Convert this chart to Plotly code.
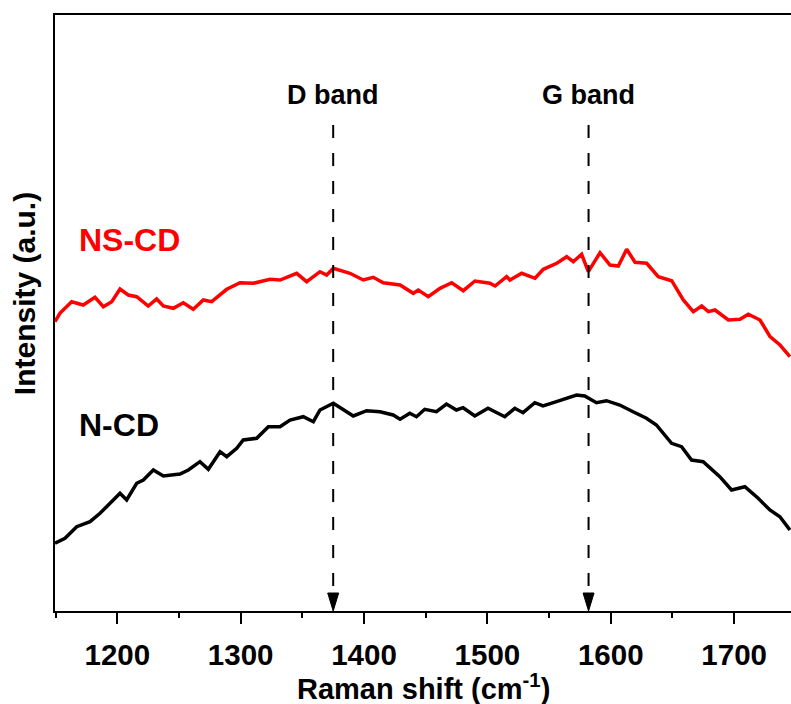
import plotly.graph_objects as go

# Raman spectra (intensity in arbitrary units)
ns_cd_shift = [1149.5, 1153.6, 1163.0, 1172.4, 1181.9, 1188.7, 1195.5, 1202.2, 1208.9, 1215.7,
               1225.1, 1231.9, 1237.3, 1245.4, 1253.5, 1261.6, 1269.7, 1276.5, 1288.7, 1299.5,
               1310.2, 1323.8, 1331.9, 1345.4, 1353.5, 1364.3, 1369.7, 1375.1, 1388.6, 1399.4,
               1407.5, 1415.6, 1429.2, 1439.9, 1444.0, 1452.1, 1461.6, 1471.1, 1480.4, 1489.9,
               1502.1, 1506.2, 1515.6, 1518.3, 1527.8, 1538.6, 1545.3, 1556.2, 1564.3, 1569.6,
               1576.4, 1581.8, 1591.3, 1599.4, 1606.1, 1612.9, 1619.7, 1629.1, 1638.5, 1649.4,
               1658.8, 1666.9, 1673.7, 1679.1, 1684.5, 1695.3, 1704.8, 1711.5, 1721.0, 1729.1,
               1737.2, 1745.3]
ns_cd_intensity = [289.3, 298.0, 309.3, 306.0, 313.7, 304.3, 309.3, 322.0, 316.0, 314.3,
                   305.0, 312.0, 305.0, 302.7, 308.3, 301.7, 311.0, 309.3, 321.7, 328.3,
                   327.7, 331.7, 331.0, 337.7, 329.3, 339.3, 336.0, 342.7, 337.7, 331.0,
                   333.7, 328.3, 326.0, 317.7, 321.0, 314.3, 322.7, 328.3, 320.3, 330.0,
                   327.7, 325.0, 334.3, 331.0, 337.7, 332.7, 341.7, 347.7, 354.3, 349.3,
                   356.7, 339.3, 358.3, 346.0, 345.0, 361.7, 348.7, 347.7, 334.3, 330.3,
                   311.0, 299.3, 305.0, 299.3, 301.0, 291.0, 291.7, 296.7, 291.0, 274.3,
                   266.0, 254.3]

n_cd_shift = [1149.5, 1157.6, 1167.1, 1177.9, 1186.0, 1194.1, 1202.2, 1207.6, 1215.7, 1221.1,
              1229.2, 1237.3, 1250.8, 1257.6, 1267.0, 1273.8, 1283.3, 1288.7, 1296.8, 1302.1,
              1313.0, 1322.4, 1331.9, 1340.0, 1350.8, 1358.9, 1364.3, 1375.1, 1383.2, 1391.3,
              1402.1, 1412.9, 1423.6, 1429.2, 1437.1, 1442.5, 1449.2, 1458.7, 1466.8, 1474.9,
              1480.3, 1489.8, 1500.5, 1514.1, 1522.2, 1528.9, 1538.4, 1545.1, 1556.0, 1564.1,
              1572.2, 1578.9, 1588.4, 1596.5, 1607.3, 1618.1, 1628.9, 1637.0, 1649.3, 1657.4,
              1665.5, 1674.9, 1688.4, 1697.9, 1708.7, 1719.5, 1729.0, 1737.1, 1745.2]
n_cd_intensity = [67.7, 72.7, 84.3, 89.3, 97.7, 107.7, 117.7, 111.0, 127.7, 131.0,
                  141.0, 135.0, 137.0, 141.0, 149.3, 141.7, 159.3, 154.3, 162.7, 171.0,
                  172.7, 184.3, 184.3, 191.0, 194.3, 189.3, 201.0, 207.7, 201.0, 195.0,
                  200.3, 199.3, 196.0, 191.7, 197.7, 194.3, 201.7, 199.3, 207.0, 201.0,
                  203.3, 195.0, 202.7, 194.3, 202.7, 198.3, 208.3, 205.0, 209.3, 212.7,
                  216.0, 215.0, 208.3, 210.3, 206.0, 199.3, 192.7, 186.0, 167.7, 164.3,
                  151.0, 149.3, 134.3, 121.0, 124.3, 112.7, 101.0, 94.3, 81.0]

band_names = ["D band", "G band"]
band_positions = [1375, 1582]

x_ticks = [1200, 1300, 1400, 1500, 1600, 1700]

FONT = "Liberation Sans"

fig = go.Figure()
fig.add_trace(go.Scatter(x=ns_cd_shift, y=ns_cd_intensity, mode="lines",
                         line=dict(color="#ff0000", width=3.5), showlegend=False))
fig.add_trace(go.Scatter(x=n_cd_shift, y=n_cd_intensity, mode="lines",
                         line=dict(color="#000000", width=3.5), showlegend=False))

shapes = []
annotations = []
for name, pos in zip(band_names, band_positions):
    # dashed marker line ending in an arrowhead on the x axis
    shapes.append(dict(type="line", xref="x", yref="y", x0=pos, x1=pos, y0=486, y1=19,
                       line=dict(color="#000000", width=2, dash="13px,15px")))
    shapes.append(dict(type="path", xref="x", yref="y", xsizemode="pixel", ysizemode="pixel",
                       xanchor=pos, yanchor=0, path="M-5.5,18 L5.5,18 L0,0 Z",
                       fillcolor="#000000", line=dict(color="#000000", width=1)))
    annotations.append(dict(x=pos, y=516, xref="x", yref="y", text=name, showarrow=False,
                            xanchor="center", yanchor="middle",
                            font=dict(family=FONT, size=27, color="#000000", weight="bold")))

annotations.append(dict(x=1167, y=371, xref="x", yref="y", text="NS-CD", showarrow=False,
                        xanchor="left", yanchor="middle",
                        font=dict(family=FONT, size=32, color="#ff0000", weight="bold")))
annotations.append(dict(x=1167, y=186, xref="x", yref="y", text="N-CD", showarrow=False,
                        xanchor="left", yanchor="middle",
                        font=dict(family=FONT, size=32, color="#000000", weight="bold")))
annotations.append(dict(x=-0.041, y=0.533, xref="paper", yref="paper", text="Intensity (a.u.)",
                        textangle=-90, showarrow=False, xanchor="center", yanchor="middle",
                        font=dict(family=FONT, size=30, color="#000000", weight="bold")))
annotations.append(dict(x=0.5, y=-0.127, xref="paper", yref="paper",
                        text="Raman shift (cm<sup>-1</sup>)", showarrow=False,
                        xanchor="center", yanchor="middle",
                        font=dict(family=FONT, size=29, color="#000000", weight="bold")))

fig.update_layout(
    width=791, height=704,
    margin=dict(l=55, r=0, t=15, b=93),
    plot_bgcolor="#ffffff", paper_bgcolor="#ffffff",
    shapes=shapes, annotations=annotations,
    xaxis=dict(range=[1149.5, 1746.1], showgrid=False, zeroline=False,
               showline=True, linecolor="#000000", linewidth=2, mirror=True,
               tickvals=x_ticks, ticks="outside", ticklen=11, tickwidth=2, tickcolor="#000000",
               ticklabelstandoff=6,
               minor=dict(dtick=50, tick0=1150, ticks="outside", ticklen=5, tickwidth=2,
                          tickcolor="#000000"),
               tickfont=dict(family=FONT, size=29.5, color="#000000", weight="bold")),
    yaxis=dict(range=[0, 596], showgrid=False, zeroline=False, showticklabels=False,
               showline=True, linecolor="#000000", linewidth=2, ticks=""),
)

fig.write_html("out.html")
